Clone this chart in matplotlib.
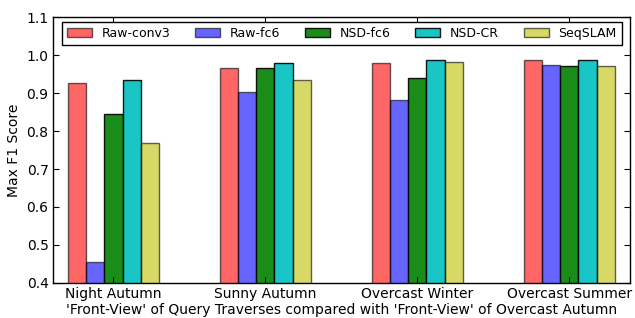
import numpy as np
import matplotlib
matplotlib.use('Agg')
import matplotlib.pyplot as plt

# query traverses and the five methods
conditions = ['Night Autumn', 'Sunny Autumn', 'Overcast Winter', 'Overcast Summer']
methods = ['Raw-conv3', 'Raw-fc6', 'NSD-fc6', 'NSD-CR', 'SeqSLAM']

# max F1 score per method (one value per condition)
raw_conv3 = [0.927, 0.966, 0.981, 0.989]
raw_fc6 = [0.454, 0.904, 0.883, 0.975]
nsd_fc6 = [0.846, 0.966, 0.939, 0.972]
nsd_cr = [0.935, 0.979, 0.987, 0.989]
seqslam = [0.769, 0.935, 0.983, 0.972]

series = [raw_conv3, raw_fc6, nsd_fc6, nsd_cr, seqslam]
colors = ['r', 'b', 'g', 'c', 'y']
alphas = [0.6, 0.6, 0.9, 0.9, 0.6]

fig = plt.figure(figsize=(6.35, 3.18), dpi=100, facecolor='white')
ax = fig.add_axes([0.083, 0.111, 0.909, 0.834])

ind = np.arange(len(conditions))
width = 0.12
for k, vals in enumerate(series):
    ax.bar(ind + (k - 2) * width, vals, width, color=colors[k], alpha=alphas[k],
           edgecolor='black', linewidth=1, label=methods[k])

ax.set_xlim(-0.4, 3.4)
ax.set_ylim(0.4, 1.1)
ax.set_xticks(ind)
ax.set_xticklabels(conditions, fontsize=10)
ax.set_yticks(np.arange(0.4, 1.11, 0.1))
ax.set_yticklabels(['%.1f' % v for v in np.arange(0.4, 1.11, 0.1)], fontsize=10)
ax.tick_params(direction='in', top=True, right=True, length=4, pad=3)
for s in ax.spines.values():
    s.set_linewidth(1)
    s.set_color('black')

ax.set_ylabel('Max F1 Score', fontsize=10)
ax.set_xlabel("'Front-View' of Query Traverses compared with 'Front-View' of Overcast Autumn",
              fontsize=10, labelpad=1.5)

leg = ax.legend(loc='lower left', bbox_to_anchor=(0.016, 0.896, 0.97, 0.082),
                mode='expand', ncol=5, borderaxespad=0, fontsize=9,
                fancybox=False, framealpha=1, edgecolor='black')
leg.get_frame().set_linewidth(1)

fig.savefig('out.png', dpi=100, facecolor='white')
